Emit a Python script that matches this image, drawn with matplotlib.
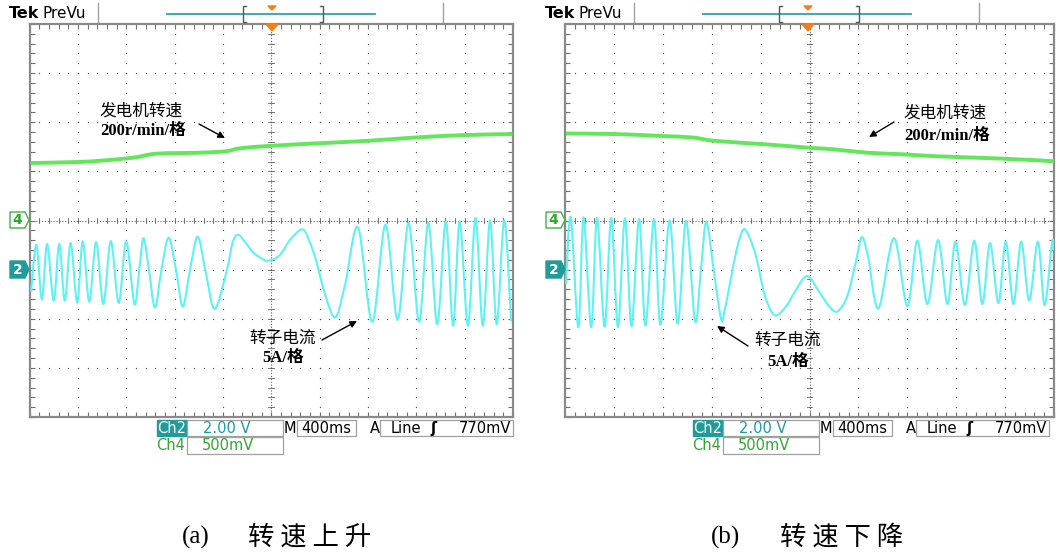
import matplotlib

matplotlib.use("Agg")
import matplotlib.pyplot as plt  # noqa: E402
import numpy as np  # noqa: E402
from matplotlib.patches import PathPatch, Polygon, Rectangle  # noqa: E402
from matplotlib.path import Path  # noqa: E402

# ---- values read off the scope screens, in screen divisions ----
# x: 0..10 div (400 ms/div), y: -4..4 div (0 = centre line / Ch4 ref)

# (a) speed rising
speed_up_x = [0.02, 0.98, 1.5, 2.15, 2.63, 3.52, 4.07, 4.35, 5.0, 5.93, 6.96, 7.99, 9.02, 9.99]
speed_up_y = [1.17, 1.19, 1.22, 1.28, 1.36, 1.38, 1.41, 1.47, 1.52, 1.57, 1.62, 1.69, 1.74, 1.76]

current_up_x = [
    0.03, 0.142, 0.257, 0.365, 0.50, 0.615, 0.73, 0.851, 0.986, 1.101, 1.236,
    1.378, 1.527, 1.682, 1.845, 2.0, 2.169, 2.27, 2.358, 2.47, 2.595, 2.73,
    2.878, 3.03, 3.169, 3.32, 3.48, 3.65, 3.83, 4.08, 4.204,
    4.32, 4.49, 4.626, 4.796, 4.94, 5.17, 5.408, 5.646, 5.782, 5.918, 6.122,
    6.327, 6.531, 6.795, 7.089, 7.362, 7.614, 7.84, 8.058, 8.249, 8.433,
    8.611, 8.761, 8.898, 9.068, 9.225, 9.375, 9.526, 9.662, 9.819, 9.96,
]
current_up_y = [
    -1.45, -0.50, -1.60, -0.48, -1.63, -0.48, -1.63, -0.46, -1.67, -0.43, -1.65,
    -0.44, -1.70, -0.42, -1.68, -0.43, -1.70, -1.0, -0.36, -1.0, -1.77, -1.0,
    -0.35, -1.0, -1.75, -1.0, -0.33, -1.08, -1.80, -1.02, -0.44,
    -0.29, -0.48, -0.65, -0.77, -0.82, -0.71, -0.37, -0.18, -0.41, -0.78, -1.53,
    -1.97, -1.29, -0.14, -2.06, -0.09, -2.02, -0.05, -2.06, -0.05, -2.11,
    -0.02, -2.14, -0.02, -2.14, 0.05, -2.14, 0.0, -2.11, 0.0, -2.05,
]

# (b) speed falling
speed_down_x = [0.02, 1.01, 1.98, 2.6, 3.08, 4.11, 5.0, 5.49, 6.18, 6.87, 7.55, 8.93, 9.93, 9.99]
speed_down_y = [1.77, 1.76, 1.72, 1.69, 1.62, 1.55, 1.48, 1.45, 1.38, 1.35, 1.31, 1.26, 1.21, 1.20]

current_down_x = [
    0.02, 0.117, 0.273, 0.38, 0.535, 0.655, 0.81, 0.945, 1.083, 1.225, 1.36,
    1.515, 1.645, 1.82, 1.95, 2.14, 2.305, 2.475, 2.66, 2.78, 2.89, 3.04,
    3.19, 3.26, 3.378, 3.514, 3.649, 3.784, 3.919, 4.088, 4.291, 4.527, 4.696,
    4.95, 5.203, 5.405, 5.574, 5.777, 5.946, 6.07, 6.2, 6.411, 6.726, 7.0,
    7.205, 7.411, 7.63, 7.822, 7.986, 8.178, 8.37, 8.534, 8.692, 8.863,
    9.014, 9.171, 9.329, 9.493, 9.671, 9.808, 9.959, 9.99,
]
current_down_y = [
    -1.3, 0.06, -2.17, 0.06, -2.17, 0.05, -2.16, 0.05, -2.17, 0.04, -2.15,
    0.03, -2.14, 0.02, -2.12, 0.0, -2.10, -0.01, -2.05, -1.0, -0.03, -1.0,
    -2.0, -1.85, -1.26, -0.58, -0.18, -0.37, -0.78, -1.53, -1.93, -1.74, -1.46,
    -1.13, -1.46, -1.75, -1.85, -1.53, -0.85, -0.34, -0.75, -1.79, -0.36, -1.74,
    -0.41, -1.70, -0.40, -1.70, -0.43, -1.72, -0.41, -1.70, -0.46, -1.68,
    -0.43, -1.70, -0.43, -1.63, -0.43, -1.72, -0.44, -0.61,
]

panel_tags = ["(a)", "(b)"]
panel_titles = ["转 速 上 升", "转 速 下 降"]
speed_label = ["发电机转速", "200r/min/格"]
current_label = ["转子电流", "5A/格"]
ch2_scale, ch4_scale = "2.00 V", "500mV"
time_scale, trig_level = "400ms", "770mV"

W, H = 1061, 555
TEAL = "#1f9b9b"
GREEN_TXT = "#2fa82f"
CYAN = "#5ff2f2"
GREEN = "#62e65a"
ORANGE = "#f08018"
CJK = ["Noto Sans CJK SC", "DejaVu Sans"]
SERIF_B = ["Liberation Serif", "Noto Sans CJK SC"]

fig = plt.figure(figsize=(W / 100, H / 100), dpi=100)


def trace(ax, x, y, **kw):
    # draw the read points as a smooth bezier path (the scope trace is continuous)
    pts = np.column_stack([x, y])
    n = len(pts)
    verts, codes = [pts[0]], [Path.MOVETO]
    for i in range(n - 1):
        p0 = pts[max(i - 1, 0)]
        p1, p2 = pts[i], pts[i + 1]
        p3 = pts[min(i + 2, n - 1)]
        verts += [p1 + (p2 - p0) / 6, p2 - (p3 - p1) / 6, p2]
        codes += [Path.CURVE4] * 3
    ax.add_patch(PathPatch(Path(verts, codes), facecolor="none", **kw))


def screen(x0, x1, y0=24, y1=417):
    ax = fig.add_axes([x0 / W, 1 - y1 / H, (x1 - x0) / W, (y1 - y0) / H])
    ax.set_xlim(0, 10)
    ax.set_ylim(-4, 4)
    ax.set_xticks(range(11))
    ax.set_yticks(range(-4, 5))
    ax.set_xticks(np.arange(0, 10.01, 0.2), minor=True)
    ax.set_yticks(np.arange(-4, 4.01, 0.2), minor=True)
    ax.tick_params(which="both", direction="in", length=3.5, width=0.8, color="#707070",
                   top=True, right=True, labelbottom=False, labelleft=False)
    for s in ax.spines.values():
        s.set_color("#8a8a8a")
        s.set_linewidth(1.6)
    dots = np.arange(-4, 4.01, 0.2)
    for k in [1, 2, 3, 4, 6, 7, 8, 9]:
        ax.scatter(np.full_like(dots, k), dots, s=0.9, color="#505050", lw=0, zorder=1)
    hd = np.arange(0, 10.01, 0.2)
    for j in [-3, -2, -1, 1, 2, 3]:
        ax.scatter(hd, np.full_like(hd, j), s=0.9, color="#505050", lw=0, zorder=1)
    # centre cross with dense dots and small ticks
    ax.axvline(5, color="#606060", lw=0.8, ls=(0, (1, 1.6)), zorder=1)
    ax.axhline(0, color="#606060", lw=0.8, ls=(0, (1, 1.6)), zorder=1)
    for v in dots:
        ax.plot([4.94, 5.06], [v, v], color="#606060", lw=0.6, zorder=1)
    for v in hd:
        ax.plot([v, v], [-0.06, 0.06], color="#606060", lw=0.6, zorder=1)
    return ax


def chrome(ov, dx):
    # header
    ov.text(9 + dx, 14, "Tek", fontsize=11.5, fontweight="bold", va="center", ha="left",
            family="DejaVu Sans")
    ov.text(42 + dx, 13, "PreVu", fontsize=11, va="center", ha="left", family="DejaVu Sans")
    for sx in (98, 443):
        ov.plot([sx + dx, sx + dx], [3, 22], color="#a0a0a0", lw=1)
    ov.plot([167 + dx, 375 + dx], [14, 14], color="#2aa3b5", lw=1.3)
    ov.plot([246 + dx, 243 + dx, 243 + dx, 246 + dx], [6, 6, 22, 22], color="#555555", lw=1)
    ov.plot([320 + dx, 323 + dx, 323 + dx, 320 + dx], [6, 6, 22, 22], color="#555555", lw=1)
    ov.add_patch(Polygon([(268 + dx, 6), (276 + dx, 6), (272 + dx, 10)], color=ORANGE))
    ov.add_patch(Polygon([(266 + dx, 24), (278 + dx, 24), (272 + dx, 31)], color=ORANGE))
    # channel reference markers
    ov.add_patch(Polygon([(10 + dx, 212), (25 + dx, 212), (29 + dx, 220), (25 + dx, 228),
                          (10 + dx, 228)], facecolor="white", edgecolor="#3db53d", lw=1))
    ov.text(17.5 + dx, 220.5, "4", color="#2fa82f", fontsize=10, fontweight="bold",
            ha="center", va="center")
    ov.add_patch(Polygon([(10 + dx, 261), (25 + dx, 261), (29 + dx, 269.5), (25 + dx, 278),
                          (10 + dx, 278)], color=TEAL))
    ov.text(17.5 + dx, 270, "2", color="white", fontsize=10, fontweight="bold",
            ha="center", va="center")
    # status readout
    fs = 10.5
    ov.add_patch(Rectangle((157 + dx, 420), 30, 16, color=TEAL))
    ov.text(172 + dx, 428.5, "Ch2", color="white", fontsize=fs, ha="center", va="center")
    for (bx, by, bw, bh) in [(187, 420, 96, 16), (297, 420, 59, 16), (380, 420, 133, 16),
                             (187, 437, 96, 17)]:
        ov.add_patch(Rectangle((bx + dx, by), bw, bh, facecolor="white",
                               edgecolor="#a0a0a0", lw=0.9))
    ov.text(203 + dx, 428.5, ch2_scale, color=TEAL, fontsize=fs, ha="left", va="center")
    ov.text(290 + dx, 428.5, "M", fontsize=fs, ha="center", va="center")
    ov.text(326.5 + dx, 428.5, time_scale, fontsize=fs, ha="center", va="center")
    ov.text(375 + dx, 428.5, "A", fontsize=fs, ha="center", va="center")
    ov.text(391 + dx, 428.5, "Line", fontsize=fs, ha="left", va="center")
    ov.text(434 + dx, 428.5, "ʃ", fontsize=fs, fontweight="bold", ha="center", va="center")
    ov.text(511 + dx, 428.5, trig_level, fontsize=fs, ha="right", va="center")
    ov.text(171 + dx, 446, "Ch4", color=GREEN_TXT, fontsize=fs, ha="center", va="center")
    ov.text(202 + dx, 446, ch4_scale, color=GREEN_TXT, fontsize=fs, ha="left", va="center")


ax_a = screen(29.5, 513)
ax_b = screen(565, 1054)
for ax, sx, sy, cx, cy in [
    (ax_a, speed_up_x, speed_up_y, current_up_x, current_up_y),
    (ax_b, speed_down_x, speed_down_y, current_down_x, current_down_y),
]:
    trace(ax, sx, sy, edgecolor=GREEN, lw=2.8, zorder=3, capstyle="butt")
    trace(ax, cx, cy, edgecolor=CYAN, lw=1.5, zorder=3)

ov = fig.add_axes([0, 0, 1, 1], zorder=10)
ov.set_xlim(0, W)
ov.set_ylim(H, 0)
ov.axis("off")
chrome(ov, 0)
chrome(ov, 536)

arrow = dict(arrowstyle="-|>", color="black", lw=1.0, mutation_scale=10, shrinkA=0, shrinkB=0)
# (a) labels
ov.text(100, 111, speed_label[0], fontsize=12, family=CJK, ha="left", va="center")
ov.text(100, 131, speed_label[1], fontsize=12, family=SERIF_B, fontweight="bold",
        ha="left", va="center")
ov.annotate("", xy=(225, 138), xytext=(199, 124), arrowprops=arrow)
ov.text(283, 338, current_label[0], fontsize=12, family=CJK, ha="center", va="center")
ov.text(283, 358, current_label[1], fontsize=12, family=SERIF_B, fontweight="bold",
        ha="center", va="center")
ov.annotate("", xy=(357, 321), xytext=(322, 340), arrowprops=arrow)
# (b) labels
ov.text(904, 113, speed_label[0], fontsize=12, family=CJK, ha="left", va="center")
ov.text(904, 136, speed_label[1], fontsize=12, family=SERIF_B, fontweight="bold",
        ha="left", va="center")
ov.annotate("", xy=(869, 137), xytext=(894, 122), arrowprops=arrow)
ov.text(788, 340, current_label[0], fontsize=12, family=CJK, ha="center", va="center")
ov.text(788, 362, current_label[1], fontsize=12, family=SERIF_B, fontweight="bold",
        ha="center", va="center")
ov.annotate("", xy=(717, 326), xytext=(748, 346), arrowprops=arrow)

# captions
for tx, cx, tag, title in [(196, 248, panel_tags[0], panel_titles[0]),
                           (725, 780, panel_tags[1], panel_titles[1])]:
    ov.text(tx, 537, tag, fontsize=18, family="Liberation Serif", ha="center", va="center")
    ov.text(cx, 537, title, fontsize=19, family=CJK, ha="left", va="center")

fig.savefig("out.png", dpi=100)
